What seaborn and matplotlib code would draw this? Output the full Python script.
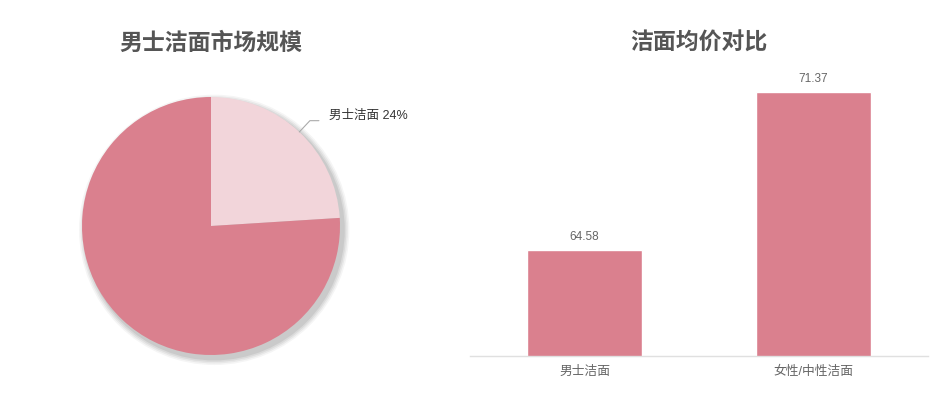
import matplotlib.pyplot as plt
import numpy as np
import seaborn as sns

# left: market share
share_labels = ['男士洁面', '其他']
share_values = [24, 76]
share_colors = ['#f2d5da', '#da808e']

# right: average price
price_cats = ['男士洁面', '女性/中性洁面']
price_values = [64.58, 71.37]
bar_color = '#da808e'

sns.set_style('white')
plt.rcParams['font.family'] = ['Liberation Sans', 'Noto Sans CJK SC', 'DejaVu Sans']

fig = plt.figure(figsize=(9.35, 4), dpi=100)

# ---- pie ----
R = 129
half = 150
ax1 = fig.add_axes([(211 - half) / 935, (400 - 226 - half) / 400, 2 * half / 935, 2 * half / 400])
lim = half / R
ax1.set_aspect('equal')
ax1.axis('off')

# soft shadow
for i, a in enumerate([0.04, 0.05, 0.06, 0.07]):
    r = 1.0 + 0.012 * (4 - i)
    ax1.add_patch(plt.Circle((0.025, -0.03), r, color='#000000', alpha=a, lw=0, zorder=0))

wedges, _ = ax1.pie(share_values, colors=share_colors, startangle=90, counterclock=False,
                    radius=1, wedgeprops=dict(linewidth=0), frame=False)
ax1.set_xlim(-lim, lim)
ax1.set_ylim(-lim, lim)
for w in wedges:
    w.set_zorder(2)

# label for first wedge
w = wedges[0]
mid = np.deg2rad((w.theta1 + w.theta2) / 2)
p0 = np.array([np.cos(mid), np.sin(mid)])
p1 = p0 * 1.12
p2 = p1 + np.array([0.07, 0])
ax1.plot([p0[0], p1[0], p2[0]], [p0[1], p1[1], p2[1]], color='#aaaaaa', lw=0.8, zorder=3)
ax1.text(p2[0] + 0.08, p2[1] + 0.04, f'{share_labels[0]} {share_values[0]}%',
         fontsize=9, color='#333333', ha='left', va='center')

fig.text(211 / 935, 1 - 43 / 400, '男士洁面市场规模', ha='center', va='center',
         fontsize=16.5, fontweight='bold', color='#555555')

# ---- bars ----
ax2 = fig.add_axes([470 / 935, (400 - 356) / 400, 458 / 935, (356 - 77) / 400])
sns.barplot(x=price_cats, y=price_values, color=bar_color, width=0.5, saturation=1, ax=ax2)
ax2.set_ylim(60, 72)
ax2.set_xlim(-0.5, 1.5)
for c in ax2.containers:
    ax2.bar_label(c, labels=[f'{v:.2f}' for v in price_values], padding=5,
                  fontsize=8.5, color='#666666')
sns.despine(ax=ax2, left=True, top=True, right=True)
ax2.spines['bottom'].set_color('#e0e0e0')
ax2.spines['bottom'].set_linewidth(1)
ax2.set_yticks([])
ax2.tick_params(axis='x', length=0, labelsize=9.2, labelcolor='#666666', pad=7)
ax2.set_xlabel('')
ax2.set_ylabel('')

fig.text(699 / 935, 1 - 43 / 400, '洁面均价对比', ha='center', va='center',
         fontsize=16.5, fontweight='bold', color='#555555')

fig.savefig('out.png', dpi=100)
